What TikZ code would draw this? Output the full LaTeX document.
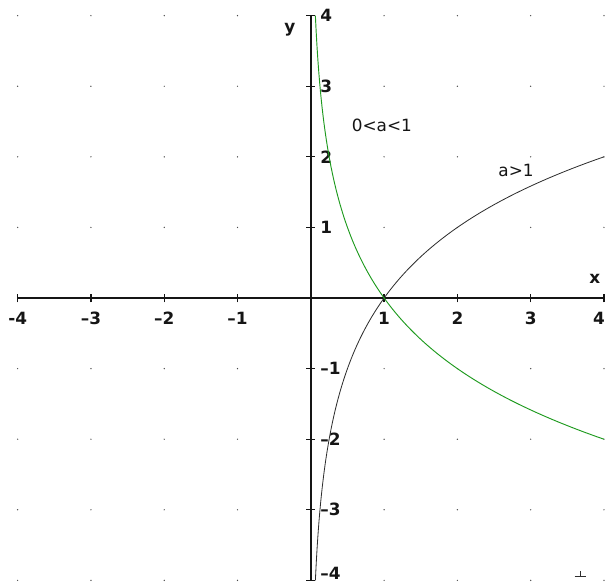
\documentclass[tikz,border=0pt]{standalone}
\usepackage{fontspec}
\setmainfont{DejaVu Sans}
\usepackage{xcolor}
\usetikzlibrary{positioning}
\definecolor{cInk}{HTML}{151515}
\definecolor{cCurve}{HTML}{2E2E2E}
\definecolor{cGreen}{HTML}{1E9A1E}
\definecolor{cDot}{HTML}{4A4A4A}
\tikzset{
  axisline/.style={line width=1.3pt,color=cInk},
  tickmark/.style={line width=1.1pt,color=cInk},
  tlbl/.style={font=\Large\bfseries,text=cInk,inner sep=0pt},
  clbl/.style={font=\Large,text=cInk,inner sep=0pt},
  graph/.style={line width=#1,line join=round},
  graph/.default=0.8pt,
}
\begin{document}
\begin{tikzpicture}[x=2.199cm,y=2.118cm]
  \useasboundingbox (-4.241,-4.065) rectangle (4.055,4.222);
  % grid dots
  \foreach \i in {-4,...,4}{
    \foreach \j in {-4,...,4}{
      \ifnum\i=0\relax\else\ifnum\j=0\relax\else
        \fill[cDot] (\i,\j) circle[radius=0.6pt];
      \fi\fi}}
  % axes
  \coordinate (xmin) at (-4,0); \coordinate (xmax) at (4,0);
  \coordinate (ymin) at (0,-4); \coordinate (ymax) at (0,4);
  \draw[axisline] (xmin) -- (xmax);
  \draw[axisline] (ymin) -- (ymax);
  \foreach \i/\t in {-4/-4,-3/–3,-2/–2,-1/–1,1/1,2/2,3/3}{
    \draw[tickmark] (\i,0) +(0,-3.8pt) -- +(0,3.8pt);
    \node[tlbl,yshift=-0.6cm] (xl\i) at (\i,0) {\t};}
  \draw[tickmark] (4,0) +(0,-3.8pt) -- +(0,3.8pt);
  \node[tlbl,yshift=-0.6cm,xshift=-0.15cm] (xl4) at (4,0) {4};
  \foreach \j/\t in {-3/–3,-2/–2,-1/–1,1/1,2/2,3/3,4/4}{
    \draw[tickmark] (0,\j) +(-3.8pt,0) -- +(3.8pt,0);
    \node[tlbl,anchor=west,xshift=0.28cm] (yl\j) at (0,\j) {\t};}
  \draw[tickmark] (0,-4) +(-3.8pt,0) -- +(3.8pt,0);
  \node[tlbl,anchor=west,xshift=0.28cm,yshift=0.2cm] (yl-4) at (0,-4) {–4};
  \node[tlbl] (xname) at (3.875,0.27) {x};
  \node[tlbl] (yname) at (-0.287,3.80) {y};
  % curves
  \draw[graph=0.7pt,cCurve] plot[domain=-4:2,samples=160,smooth] ({2^\x},\x);
  \draw[graph,cGreen] plot[domain=-2:4,samples=160,smooth] ({2^(-\x)},\x);
  \node[clbl] (lsmall) at (0.97,2.45) {0<a<1};
  \node[clbl] (lbig) at (2.80,1.81) {a>1};
  % pointer mark
  \coordinate (ptr) at (3.68,-3.94);
  \draw[line width=0.5pt,cCurve] (ptr) +(-5pt,0) -- +(5pt,0) (ptr) -- +(0,4pt);
\end{tikzpicture}
\end{document}
